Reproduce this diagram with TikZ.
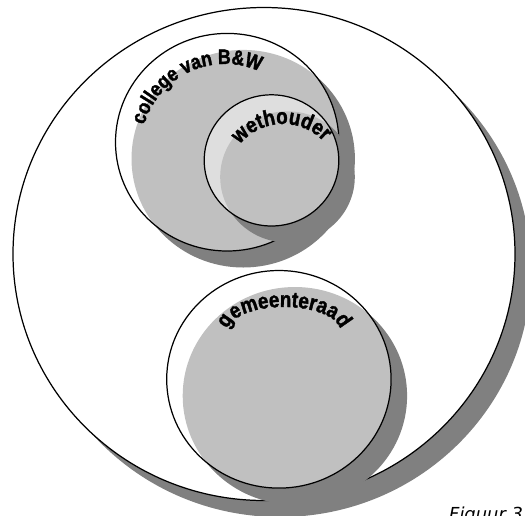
\documentclass[tikz,border=0pt]{standalone}
\usepackage{fontspec}
\usetikzlibrary{decorations.text}
\newfontfamily\lblfont[FakeStretch=0.85, FakeBold=1.6]{Liberation Sans}
\newfontfamily\capfont{DejaVu Sans}
\newcommand{\lblsize}{\lblfont\bfseries\fontsize{11.9}{14}\selectfont}
\newcommand{\lblbig}{\lblfont\bfseries\fontsize{12.6}{15}\selectfont}
\definecolor{shadeD}{RGB}{128,128,128}
\definecolor{shadeL}{RGB}{192,192,192}
\definecolor{shadeW}{RGB}{222,222,222}
\tikzset{
  dropshade/.style={fill=shadeD},
  rim/.style={draw=black, line width=0.7pt},
  arclabel/.style={decorate, decoration={text along path, text align=center, text={#1}}}
}
\begin{document}
\begin{tikzpicture}[x=0.02cm, y=-0.02cm]
\useasboundingbox (0,0) rectangle (525,515);
\clip (0,0) rectangle (525,515);
% centres of the circles and of their shadows (shadow offset 16,16.5)
\coordinate (gem) at (264,254);     \coordinate (gemS) at (280,270.5);
\coordinate (col) at (227.2,142.2); \coordinate (colS) at (243.2,158.7);
\coordinate (weth) at (271.5,160.4); \coordinate (wethS) at (287.5,176.9);
\coordinate (raad) at (278.9,379.3); \coordinate (raadS) at (294.9,395.8);
% ===== outer circle: gemeente =====
\fill[dropshade] (gemS) ellipse[x radius=251, y radius=246.5];
\filldraw[rim, fill=white] (gem) ellipse[x radius=251, y radius=246.5];
% ===== college van B&W =====
\fill[dropshade] (colS) ellipse[x radius=111.7, y radius=108.8];
\fill[white] (col) ellipse[x radius=111.7, y radius=108.8];
\begin{scope}
  \clip (col) ellipse[x radius=111.7, y radius=108.8];
  \fill[shadeL] (colS) ellipse[x radius=111.7, y radius=108.8];
\end{scope}
\draw[rim] (col) ellipse[x radius=111.7, y radius=108.8];
% ===== wethouder =====
\fill[dropshade] (wethS) ellipse[x radius=67.3, y radius=65.6];
\fill[shadeW] (weth) ellipse[x radius=67.3, y radius=65.6];
\begin{scope}
  \clip (weth) ellipse[x radius=67.3, y radius=65.6];
  \fill[shadeL] (wethS) ellipse[x radius=67.3, y radius=65.6];
\end{scope}
\draw[rim] (weth) ellipse[x radius=67.3, y radius=65.6];
% ===== gemeenteraad =====
\fill[dropshade] (raadS) ellipse[x radius=112.2, y radius=108.8];
\fill[white] (raad) ellipse[x radius=112.2, y radius=108.8];
\begin{scope}
  \clip (raad) ellipse[x radius=112.2, y radius=108.8];
  \fill[shadeL] (raadS) ellipse[x radius=112.2, y radius=108.8];
\end{scope}
\draw[rim] (raad) ellipse[x radius=112.2, y radius=108.8];
% arched labels
\path[arclabel={|\lblsize|college van B{\&}W}] (225,148) ++(-205:84) arc[start angle=-205, end angle=-25, radius=84];
\path[arclabel={|\lblbig|wethouder}] (283,180) ++(-182:56) arc[start angle=-182, end angle=-2, radius=56];
\path[arclabel={|\lblbig|gemeenteraad}] (284,331) ++(-180:56 and 24) arc[start angle=-180, end angle=0, x radius=56, y radius=24];
\node[font=\capfont\itshape\fontsize{10.2}{12}\selectfont, anchor=base west] (fig) at (443,520) {Figuur 3};
\end{tikzpicture}
\end{document}
